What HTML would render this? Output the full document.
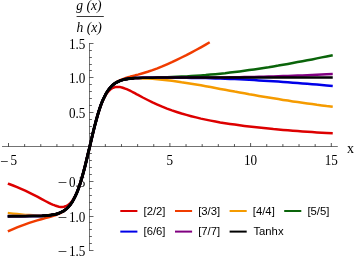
<!DOCTYPE html>
<html><head><meta charset="utf-8"><title>plot</title>
<style>
html,body{margin:0;padding:0;background:#fff;}
svg{display:block}
.s{font-family:"Liberation Serif",serif;font-size:14px;fill:#000}
.i{font-style:italic}
.a{font-family:"Liberation Sans",sans-serif;font-size:11.3px;fill:#000}
.c path{fill:none;stroke-width:2.5;stroke-linejoin:round;stroke-linecap:square}
</style></head><body>
<svg width="354" height="260" viewBox="0 0 354 260">
<rect width="354" height="260" fill="#fff"/>
<path d="M2,146.5H337.8M89.5,43.0V251.0" stroke="#000" stroke-opacity="0.55" stroke-width="1" fill="none"/>
<path d="M89.5,250.5h4.0M89.5,243.5h2.4M89.5,236.5h2.4M89.5,229.5h2.4M89.5,222.5h2.4M89.5,216.5h4.0M89.5,209.5h2.4M89.5,202.5h2.4M89.5,195.5h2.4M89.5,188.5h2.4M89.5,181.5h4.0M89.5,174.5h2.4M89.5,167.5h2.4M89.5,160.5h2.4M89.5,153.5h2.4M89.5,140.5h2.4M89.5,133.5h2.4M89.5,126.5h2.4M89.5,119.5h2.4M89.5,112.5h4.0M89.5,105.5h2.4M89.5,98.5h2.4M89.5,91.5h2.4M89.5,84.5h2.4M89.5,77.5h4.0M89.5,70.5h2.4M89.5,64.5h2.4M89.5,57.5h2.4M89.5,50.5h2.4M89.5,43.5h4.0" stroke="#000" stroke-opacity="0.6" stroke-width="1" fill="none"/>
<path d="M8.50,146.5v-3.5M24.64,146.5v-2.4M40.78,146.5v-2.4M56.92,146.5v-2.4M73.06,146.5v-2.4M105.34,146.5v-2.4M121.48,146.5v-2.4M137.62,146.5v-2.4M153.76,146.5v-2.4M169.90,146.5v-3.5M186.04,146.5v-2.4M202.18,146.5v-2.4M218.32,146.5v-2.4M234.46,146.5v-2.4M250.60,146.5v-3.5M266.74,146.5v-2.4M282.88,146.5v-2.4M299.02,146.5v-2.4M315.16,146.5v-2.4M331.30,146.5v-3.5" stroke="#000" stroke-opacity="0.9" stroke-width="0.75" fill="none"/>
<path d="M76.6,16.5H103.8" stroke="#3a3a3a" stroke-width="1"/>
<g style="will-change:transform">
<text x="76.3" y="10.2" class="s i" style="font-size:13.6px">g (x)</text>
<text x="76.5" y="32.3" class="s i" style="font-size:13.6px">h (x)</text>
<text transform="translate(85.4,48.90) scale(0.94,1.03)" class="s" text-anchor="end">1.5</text>
<text transform="translate(85.4,82.90) scale(0.94,1.03)" class="s" text-anchor="end">1.0</text>
<text transform="translate(85.4,117.90) scale(0.94,1.03)" class="s" text-anchor="end">0.5</text>
<text transform="translate(85.4,186.90) scale(0.94,1.03)" class="s" text-anchor="end">0.5</text>
<text transform="translate(67.0,186.90) scale(1.2,1.03)" class="s" text-anchor="end">−</text>
<text transform="translate(85.4,221.90) scale(0.94,1.03)" class="s" text-anchor="end">1.0</text>
<text transform="translate(67.0,221.90) scale(1.2,1.03)" class="s" text-anchor="end">−</text>
<text transform="translate(85.4,255.90) scale(0.94,1.03)" class="s" text-anchor="end">1.5</text>
<text transform="translate(67.0,255.90) scale(1.2,1.03)" class="s" text-anchor="end">−</text>
<text transform="translate(13.75,165) scale(0.94,1.03)" class="s" text-anchor="middle">5</text>
<text transform="translate(8.35,165.7) scale(1.05,1.03)" class="s" text-anchor="end">−</text>
<text transform="translate(169.90,165) scale(0.94,1.03)" class="s" text-anchor="middle">5</text>
<text transform="translate(250.60,165) scale(0.94,1.03)" class="s" text-anchor="middle">10</text>
<text transform="translate(331.30,165) scale(0.94,1.03)" class="s" text-anchor="middle">15</text>
<text x="346.9" y="152.5" class="s">x</text>
<text x="143.50" y="214.80" class="a">[2/2]</text>
<text x="198.20" y="214.80" class="a">[3/3]</text>
<text x="252.80" y="214.80" class="a">[4/4]</text>
<text x="307.40" y="214.80" class="a">[5/5]</text>
<text x="143.50" y="235.40" class="a">[6/6]</text>
<text x="198.20" y="235.40" class="a">[7/7]</text>
<text x="253.40" y="235.40" class="a">Tanhx</text>
</g>
<g class="c">
<path d="M9.0,184.0 13.1,185.5 17.1,187.1 21.1,188.9 25.2,190.7 29.2,192.6 33.2,194.6 37.3,196.7 41.3,198.9 45.3,201.0 49.4,203.1 51.0,203.9 52.6,204.6 54.2,205.2 55.8,205.8 57.4,206.3 59.0,206.7 60.6,206.9 62.2,206.9 63.9,206.7 65.5,206.3 67.1,205.6 68.7,204.5 70.3,203.1 71.9,201.2 73.5,198.9 75.1,196.0 76.8,192.6 78.4,188.6 80.0,184.0 81.6,178.9 83.2,173.2 84.8,167.1 86.4,160.6 88.0,153.8 89.7,146.9 91.3,140.0 92.9,133.2 94.5,126.7 96.1,120.6 97.7,114.9 99.3,109.8 100.9,105.2 102.5,101.2 104.2,97.8 105.8,94.9 107.4,92.6 109.0,90.7 110.6,89.3 112.2,88.2 113.8,87.5 115.4,87.1 117.1,86.9 118.7,86.9 120.3,87.1 121.9,87.5 123.5,88.0 125.1,88.6 126.7,89.2 128.3,89.9 130.0,90.7 131.6,91.5 133.2,92.3 134.8,93.2 136.4,94.1 138.0,94.9 142.8,97.5 147.7,100.0 152.5,102.4 157.4,104.6 162.2,106.7 167.0,108.6 171.9,110.4 176.7,112.0 181.5,113.5 186.4,114.9 191.2,116.2 196.0,117.4 200.9,118.6 205.7,119.6 210.6,120.6 215.4,121.5 220.2,122.4 225.1,123.2 229.9,123.9 234.7,124.6 239.6,125.3 244.4,125.9 249.2,126.5 254.1,127.1 258.9,127.6 263.7,128.1 268.6,128.6 273.4,129.1 278.3,129.5 283.1,129.9 287.9,130.3 292.8,130.7 297.6,131.1 302.4,131.4 307.3,131.7 312.1,132.1 316.9,132.4 321.8,132.7 326.6,133.0 331.5,133.2" stroke="#dd0000"/>
<path d="M9.0,230.9 13.1,229.1 17.1,227.4 21.1,225.8 25.2,224.3 29.2,222.9 33.2,221.6 37.3,220.4 41.3,219.2 45.3,218.1 49.4,217.0 51.0,216.6 52.6,216.1 54.2,215.6 55.8,215.0 57.4,214.4 59.0,213.7 60.6,213.0 62.2,212.1 63.9,211.0 65.5,209.8 67.1,208.4 68.7,206.7 70.3,204.7 71.9,202.4 73.5,199.7 75.1,196.6 76.8,192.9 78.4,188.8 80.0,184.1 81.6,178.9 83.2,173.2 84.8,167.1 86.4,160.6 88.0,153.8 89.7,146.9 91.3,140.0 92.9,133.2 94.5,126.7 96.1,120.6 97.7,114.9 99.3,109.7 100.9,105.0 102.5,100.9 104.2,97.2 105.8,94.1 107.4,91.4 109.0,89.1 110.6,87.1 112.2,85.4 113.8,84.0 115.4,82.8 117.1,81.7 118.7,80.8 120.3,80.1 121.9,79.4 123.5,78.8 125.1,78.2 126.7,77.7 128.3,77.2 130.0,76.8 131.6,76.3 133.2,75.9 134.8,75.5 136.4,75.0 138.0,74.6 142.8,73.2 147.7,71.7 152.5,70.1 157.4,68.3 162.2,66.4 167.0,64.3 171.9,62.2 176.7,59.9 181.5,57.5 186.4,55.1 191.2,52.6 196.0,50.0 200.9,47.3 205.7,44.6 208.6,42.9" stroke="#f03c00"/>
<path d="M9.0,213.2 13.1,213.7 17.1,214.1 21.1,214.5 25.2,214.9 29.2,215.1 33.2,215.3 37.3,215.5 41.3,215.5 45.3,215.4 49.4,215.1 51.0,215.0 52.6,214.7 54.2,214.4 55.8,214.1 57.4,213.7 59.0,213.1 60.6,212.5 62.2,211.7 63.9,210.8 65.5,209.6 67.1,208.3 68.7,206.6 70.3,204.7 71.9,202.4 73.5,199.7 75.1,196.5 76.8,192.9 78.4,188.8 80.0,184.1 81.6,178.9 83.2,173.2 84.8,167.1 86.4,160.6 88.0,153.8 89.7,146.9 91.3,140.0 92.9,133.2 94.5,126.7 96.1,120.6 97.7,114.9 99.3,109.7 100.9,105.0 102.5,100.9 104.2,97.3 105.8,94.1 107.4,91.4 109.0,89.1 110.6,87.2 112.2,85.5 113.8,84.2 115.4,83.0 117.1,82.1 118.7,81.3 120.3,80.7 121.9,80.1 123.5,79.7 125.1,79.4 126.7,79.1 128.3,78.8 130.0,78.7 131.6,78.5 133.2,78.4 134.8,78.4 136.4,78.3 138.0,78.3 142.8,78.4 147.7,78.5 152.5,78.8 157.4,79.2 162.2,79.7 167.0,80.2 171.9,80.8 176.7,81.4 181.5,82.2 186.4,82.9 191.2,83.7 196.0,84.5 200.9,85.3 205.7,86.2 210.6,87.1 215.4,88.0 220.2,88.9 225.1,89.8 229.9,90.7 234.7,91.6 239.6,92.4 244.4,93.3 249.2,94.2 254.1,95.0 258.9,95.9 263.7,96.7 268.6,97.5 273.4,98.3 278.3,99.1 283.1,99.9 287.9,100.6 292.8,101.4 297.6,102.1 302.4,102.8 307.3,103.5 312.1,104.1 316.9,104.8 321.8,105.4 326.6,106.1 331.5,106.7" stroke="#f59b00"/>
<path d="M9.0,216.7 13.1,216.6 17.1,216.5 21.1,216.4 25.2,216.3 29.2,216.2 33.2,216.1 37.3,216.0 41.3,215.9 45.3,215.7 49.4,215.3 51.0,215.1 52.6,214.8 54.2,214.5 55.8,214.2 57.4,213.7 59.0,213.2 60.6,212.5 62.2,211.7 63.9,210.8 65.5,209.6 67.1,208.3 68.7,206.6 70.3,204.7 71.9,202.4 73.5,199.7 75.1,196.5 76.8,192.9 78.4,188.8 80.0,184.1 81.6,178.9 83.2,173.2 84.8,167.1 86.4,160.6 88.0,153.8 89.7,146.9 91.3,140.0 92.9,133.2 94.5,126.7 96.1,120.6 97.7,114.9 99.3,109.7 100.9,105.0 102.5,100.9 104.2,97.3 105.8,94.1 107.4,91.4 109.0,89.1 110.6,87.2 112.2,85.5 113.8,84.2 115.4,83.0 117.1,82.1 118.7,81.3 120.3,80.6 121.9,80.1 123.5,79.6 125.1,79.3 126.7,79.0 128.3,78.7 130.0,78.5 131.6,78.3 133.2,78.2 134.8,78.1 136.4,78.0 138.0,77.9 142.8,77.7 147.7,77.6 152.5,77.5 157.4,77.4 162.2,77.3 167.0,77.2 171.9,77.0 176.7,76.8 181.5,76.6 186.4,76.4 191.2,76.1 196.0,75.8 200.9,75.4 205.7,75.1 210.6,74.6 215.4,74.2 220.2,73.7 225.1,73.2 229.9,72.6 234.7,72.0 239.6,71.4 244.4,70.8 249.2,70.1 254.1,69.4 258.9,68.7 263.7,67.9 268.6,67.2 273.4,66.4 278.3,65.6 283.1,64.7 287.9,63.9 292.8,63.0 297.6,62.1 302.4,61.2 307.3,60.3 312.1,59.4 316.9,58.4 321.8,57.4 326.6,56.5 331.5,55.5" stroke="#0a640a"/>
<path d="M9.0,216.1 13.1,216.1 17.1,216.1 21.1,216.1 25.2,216.1 29.2,216.1 33.2,216.1 37.3,216.0 41.3,215.9 45.3,215.6 49.4,215.3 51.0,215.1 52.6,214.8 54.2,214.5 55.8,214.2 57.4,213.7 59.0,213.2 60.6,212.5 62.2,211.7 63.9,210.8 65.5,209.6 67.1,208.3 68.7,206.6 70.3,204.7 71.9,202.4 73.5,199.7 75.1,196.5 76.8,192.9 78.4,188.8 80.0,184.1 81.6,178.9 83.2,173.2 84.8,167.1 86.4,160.6 88.0,153.8 89.7,146.9 91.3,140.0 92.9,133.2 94.5,126.7 96.1,120.6 97.7,114.9 99.3,109.7 100.9,105.0 102.5,100.9 104.2,97.3 105.8,94.1 107.4,91.4 109.0,89.1 110.6,87.2 112.2,85.5 113.8,84.2 115.4,83.0 117.1,82.1 118.7,81.3 120.3,80.6 121.9,80.1 123.5,79.6 125.1,79.3 126.7,79.0 128.3,78.7 130.0,78.5 131.6,78.4 133.2,78.2 134.8,78.1 136.4,78.0 138.0,77.9 142.8,77.8 147.7,77.7 152.5,77.7 157.4,77.7 162.2,77.7 167.0,77.7 171.9,77.7 176.7,77.7 181.5,77.8 186.4,77.8 191.2,77.9 196.0,77.9 200.9,78.0 205.7,78.1 210.6,78.3 215.4,78.4 220.2,78.6 225.1,78.7 229.9,78.9 234.7,79.1 239.6,79.3 244.4,79.6 249.2,79.8 254.1,80.1 258.9,80.4 263.7,80.7 268.6,81.0 273.4,81.3 278.3,81.6 283.1,81.9 287.9,82.3 292.8,82.7 297.6,83.0 302.4,83.4 307.3,83.8 312.1,84.2 316.9,84.6 321.8,85.0 326.6,85.4 331.5,85.8" stroke="#0000e8"/>
<path d="M9.0,216.2 13.1,216.2 17.1,216.2 21.1,216.2 25.2,216.2 29.2,216.1 33.2,216.1 37.3,216.0 41.3,215.9 45.3,215.6 49.4,215.3 51.0,215.1 52.6,214.8 54.2,214.5 55.8,214.2 57.4,213.7 59.0,213.2 60.6,212.5 62.2,211.7 63.9,210.8 65.5,209.6 67.1,208.3 68.7,206.6 70.3,204.7 71.9,202.4 73.5,199.7 75.1,196.5 76.8,192.9 78.4,188.8 80.0,184.1 81.6,178.9 83.2,173.2 84.8,167.1 86.4,160.6 88.0,153.8 89.7,146.9 91.3,140.0 92.9,133.2 94.5,126.7 96.1,120.6 97.7,114.9 99.3,109.7 100.9,105.0 102.5,100.9 104.2,97.3 105.8,94.1 107.4,91.4 109.0,89.1 110.6,87.2 112.2,85.5 113.8,84.2 115.4,83.0 117.1,82.1 118.7,81.3 120.3,80.6 121.9,80.1 123.5,79.6 125.1,79.3 126.7,79.0 128.3,78.7 130.0,78.5 131.6,78.4 133.2,78.2 134.8,78.1 136.4,78.0 138.0,77.9 142.8,77.8 147.7,77.7 152.5,77.7 157.4,77.6 162.2,77.6 167.0,77.6 171.9,77.6 176.7,77.6 181.5,77.6 186.4,77.6 191.2,77.6 196.0,77.5 200.9,77.5 205.7,77.5 210.6,77.5 215.4,77.4 220.2,77.4 225.1,77.4 229.9,77.3 234.7,77.2 239.6,77.2 244.4,77.1 249.2,77.0 254.1,76.9 258.9,76.8 263.7,76.7 268.6,76.5 273.4,76.4 278.3,76.3 283.1,76.1 287.9,75.9 292.8,75.8 297.6,75.6 302.4,75.4 307.3,75.2 312.1,74.9 316.9,74.7 321.8,74.5 326.6,74.2 331.5,74.0" stroke="#800080"/>
<path d="M9.0,216.2 13.1,216.2 17.1,216.2 21.1,216.2 25.2,216.2 29.2,216.1 33.2,216.1 37.3,216.0 41.3,215.9 45.3,215.6 49.4,215.3 51.0,215.1 52.6,214.8 54.2,214.5 55.8,214.2 57.4,213.7 59.0,213.2 60.6,212.5 62.2,211.7 63.9,210.8 65.5,209.6 67.1,208.3 68.7,206.6 70.3,204.7 71.9,202.4 73.5,199.7 75.1,196.5 76.8,192.9 78.4,188.8 80.0,184.1 81.6,178.9 83.2,173.2 84.8,167.1 86.4,160.6 88.0,153.8 89.7,146.9 91.3,140.0 92.9,133.2 94.5,126.7 96.1,120.6 97.7,114.9 99.3,109.7 100.9,105.0 102.5,100.9 104.2,97.3 105.8,94.1 107.4,91.4 109.0,89.1 110.6,87.2 112.2,85.5 113.8,84.2 115.4,83.0 117.1,82.1 118.7,81.3 120.3,80.6 121.9,80.1 123.5,79.6 125.1,79.3 126.7,79.0 128.3,78.7 130.0,78.5 131.6,78.4 133.2,78.2 134.8,78.1 136.4,78.0 138.0,77.9 142.8,77.8 147.7,77.7 152.5,77.7 157.4,77.6 162.2,77.6 167.0,77.6 171.9,77.6 176.7,77.6 181.5,77.6 186.4,77.6 191.2,77.6 196.0,77.6 200.9,77.6 205.7,77.6 210.6,77.6 215.4,77.6 220.2,77.6 225.1,77.6 229.9,77.6 234.7,77.6 239.6,77.6 244.4,77.6 249.2,77.6 254.1,77.6 258.9,77.6 263.7,77.6 268.6,77.6 273.4,77.6 278.3,77.6 283.1,77.6 287.9,77.6 292.8,77.6 297.6,77.6 302.4,77.6 307.3,77.6 312.1,77.6 316.9,77.6 321.8,77.6 326.6,77.6 331.5,77.6" stroke="#000000"/>
<path d="M42.9,215.8 44.5,215.7 46.1,215.6 47.7,215.4 49.4,215.3 51.0,215.1 52.6,214.8 54.2,214.5 55.8,214.2 57.4,213.7 59.0,213.2 60.6,212.5 62.2,211.7 63.9,210.8 65.5,209.6 67.1,208.3 68.7,206.6 70.3,204.7 71.9,202.4 73.5,199.7 75.1,196.5 76.8,192.9 78.4,188.8 80.0,184.1 81.6,178.9 83.2,173.2 84.8,167.1 86.4,160.6 88.0,153.8 89.7,146.9 91.3,140.0 92.9,133.2 94.5,126.7 96.1,120.6 97.7,114.9 99.3,109.7 100.9,105.0 102.5,100.9 104.2,97.3 105.8,94.1 107.4,91.4 109.0,89.1 110.6,87.2 112.2,85.5 113.8,84.2 115.4,83.0 117.1,82.1 118.7,81.3 120.3,80.6 121.9,80.1 123.5,79.6 125.1,79.3 126.7,79.0 128.3,78.7 129.9,78.5 131.6,78.4 133.2,78.2" stroke="#000" style="stroke-width:3.0;stroke-linecap:round"/>
</g>
<path d="M120.3,211.0h17.1" stroke="#dd0000" stroke-width="2.0"/>
<path d="M175.0,211.0h17.1" stroke="#f03c00" stroke-width="2.0"/>
<path d="M229.6,211.0h17.1" stroke="#f59b00" stroke-width="2.0"/>
<path d="M284.2,211.0h17.1" stroke="#0a640a" stroke-width="2.0"/>
<path d="M120.3,231.6h17.1" stroke="#0000e8" stroke-width="2.0"/>
<path d="M175.0,231.6h17.1" stroke="#800080" stroke-width="2.0"/>
<path d="M229.6,231.6h17.1" stroke="#000000" stroke-width="2.0"/>
</svg>
</body></html>
